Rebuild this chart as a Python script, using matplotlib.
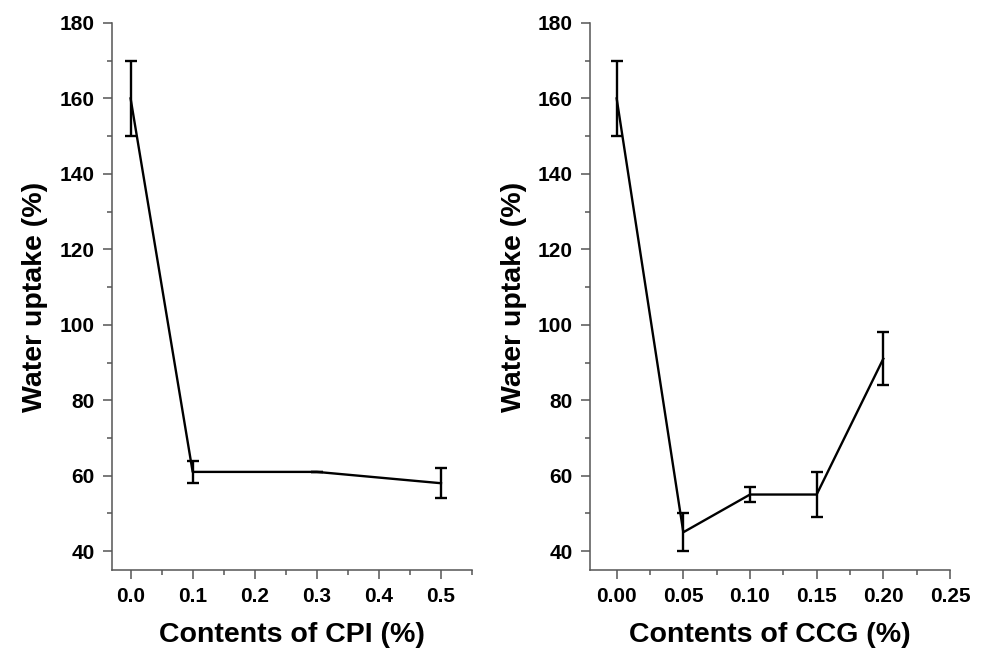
import numpy as np
import matplotlib.pyplot as plt
from matplotlib.ticker import MultipleLocator

plt.rcParams['font.family'] = ['Liberation Sans', 'DejaVu Sans']
plt.rcParams['font.weight'] = 'bold'

# CPI panel
cpi_x = [0.0, 0.1, 0.3, 0.5]
cpi_y = [160, 61, 61, 58]
cpi_err = [10, 3, 0, 4]

# CCG panel
ccg_x = [0.0, 0.05, 0.10, 0.15, 0.20]
ccg_y = [160, 45, 55, 55, 91]
ccg_err = [10, 5, 2, 6, 7]

AXCOL = "#555555"


def style_axes(ax, xlabel, xmajor, xminor, xfmt):
    for s in ("top", "right"):
        ax.spines[s].set_visible(False)
    for s in ("left", "bottom"):
        ax.spines[s].set_linewidth(1.1)
        ax.spines[s].set_color(AXCOL)
    ax.set_ylim(35, 180)
    ax.yaxis.set_major_locator(MultipleLocator(20))
    ax.yaxis.set_minor_locator(MultipleLocator(10))
    ax.xaxis.set_major_locator(MultipleLocator(xmajor))
    ax.xaxis.set_minor_locator(MultipleLocator(xminor))
    ax.xaxis.set_major_formatter(plt.FormatStrFormatter(xfmt))
    ax.tick_params(which="major", direction="out", length=6.5, width=1.1,
                   labelsize=15, pad=6, color=AXCOL)
    ax.tick_params(which="minor", direction="out", length=3.3, width=1.1,
                   color=AXCOL)
    for lab in ax.get_xticklabels() + ax.get_yticklabels():
        lab.set_fontweight("bold")
    ax.set_xlabel(xlabel, fontsize=20.5, fontweight="bold", labelpad=11)
    ax.set_ylabel("Water uptake (%)", fontsize=20.5, fontweight="bold", labelpad=8)


fig = plt.figure(figsize=(9.83, 6.55), dpi=100)
ax1 = fig.add_axes([0.1139, 0.1298, 0.3663, 0.8351])
ax2 = fig.add_axes([0.6002, 0.1298, 0.3662, 0.8351])

ax1.errorbar(cpi_x, cpi_y, yerr=cpi_err, color="black", lw=1.7,
             elinewidth=1.7, capsize=4.3, capthick=1.7)
ax1.set_xlim(-0.03, 0.55)
style_axes(ax1, "Contents of CPI (%)", 0.1, 0.05, "%.1f")

ax2.errorbar(ccg_x, ccg_y, yerr=ccg_err, color="black", lw=1.7,
             elinewidth=1.7, capsize=4.3, capthick=1.7)
ax2.set_xlim(-0.02, 0.25)
style_axes(ax2, "Contents of CCG (%)", 0.05, 0.025, "%.2f")

fig.savefig("out.png", dpi=100)
